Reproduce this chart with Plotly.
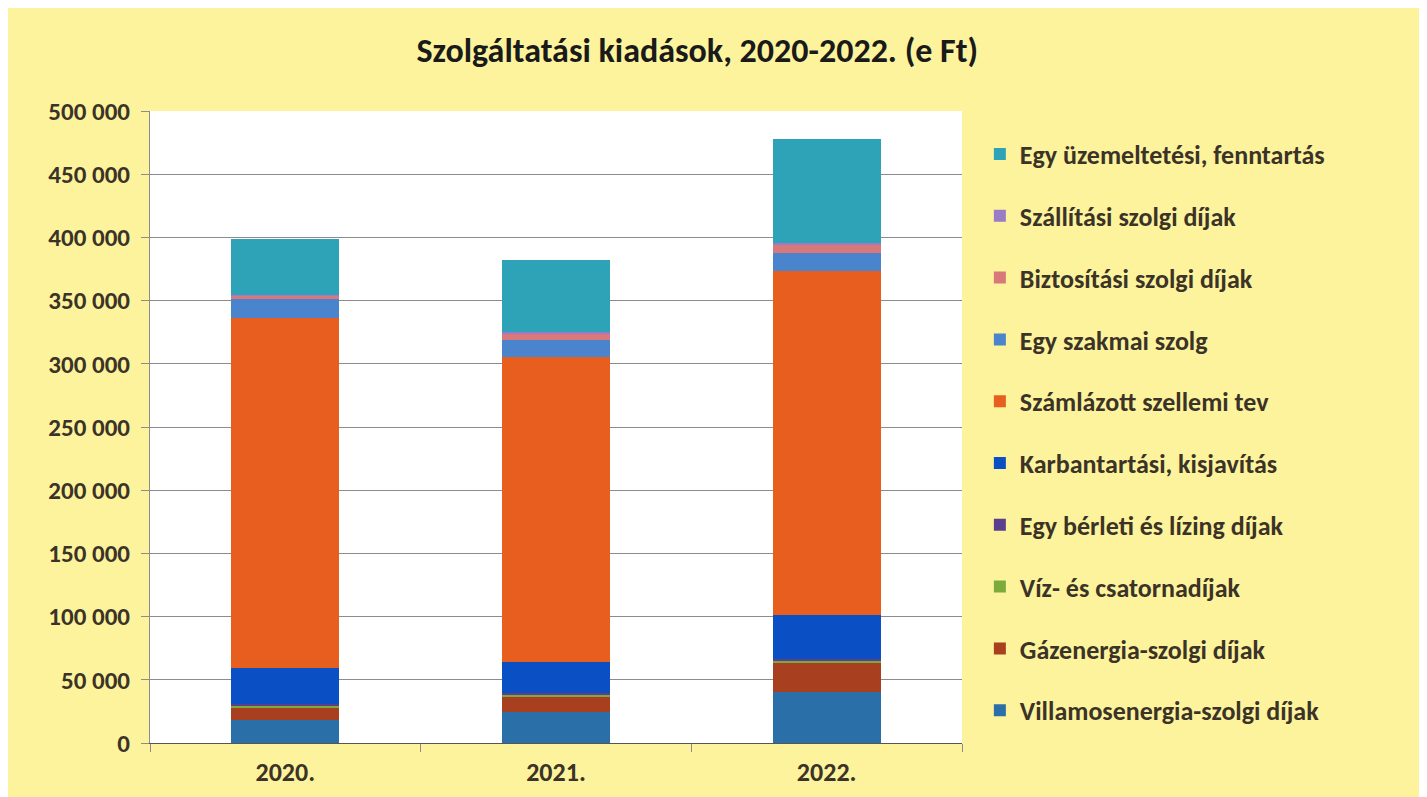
import plotly.graph_objects as go

# Years (categories)
years = ["2020.", "2021.", "2022."]

# Series values (e Ft), bottom to top
villamos = [18000, 24500, 40500]
gaz = [9500, 12000, 22500]
viz = [2500, 1500, 2000]
berleti = [1000, 1500, 1500]
karbantartas = [28000, 24500, 34500]
szamlazott = [277000, 241000, 272500]
szakmai = [15500, 13500, 14000]
biztositasi = [2500, 5500, 7000]
szallitasi = [500, 800, 1000]
uzemeltetesi = [44000, 57000, 82500]

series = [
    ("Villamosenergia-szolgi díjak", villamos, "#2a6fa8"),
    ("Gázenergia-szolgi díjak", gaz, "#a8401f"),
    ("Víz- és csatornadíjak", viz, "#7cab3c"),
    ("Egy bérleti és lízing díjak", berleti, "#5b3f8e"),
    ("Karbantartási, kisjavítás", karbantartas, "#0b4fc4"),
    ("Számlázott szellemi tev", szamlazott, "#e85e1f"),
    ("Egy szakmai szolg", szakmai, "#4a84cc"),
    ("Biztosítási szolgi díjak", biztositasi, "#d9787a"),
    ("Szállítási szolgi díjak", szallitasi, "#9a7cc6"),
    ("Egy üzemeltetési, fenntartás", uzemeltetesi, "#2ea3b8"),
]

yticks = [0, 50000, 100000, 150000, 200000, 250000, 300000, 350000, 400000, 450000, 500000]

font_family = "Carlito, Liberation Sans Narrow, Open Sans, sans-serif"
text_color = "#3b3327"

fig = go.Figure()
n = len(series)
for i, (name, vals, color) in enumerate(series):
    fig.add_trace(go.Bar(x=years, y=vals, name=name,
                         marker_color=color, marker_line_width=0,
                         legendgroup=name, legendrank=n - i))

fig.update_layout(
    barmode="stack",
    bargap=0.6,
    width=1427, height=797,
    margin=dict(l=142, r=473, t=103, b=62),
    paper_bgcolor="#fdf39c",
    plot_bgcolor="white",
    separators=", ",
    font=dict(family=font_family, color=text_color, size=24, weight="bold"),
    title=dict(text="Szolgáltatási kiadások, 2020-2022. (e Ft)",
               x=0.483, xanchor="center", y=0.947, yanchor="middle",
               font=dict(size=34, color="#1a1a1a", weight="bold")),
    legend=dict(x=1.022, xanchor="left", y=0.969, yanchor="top",
                traceorder="grouped", tracegroupgap=25,
                font=dict(size=26, color=text_color, weight="bold"),
                bgcolor="rgba(0,0,0,0)", itemwidth=30),
    showlegend=True,
)

fig.update_yaxes(range=[0, 500000], tickvals=yticks, tickformat=",d",
                 showgrid=True, gridcolor="#8c8c8c", gridwidth=1,
                 ticks="outside", ticklen=8, tickcolor="#8c8c8c",
                 showline=True, linecolor="#8c8c8c", ticklabelstandoff=6,
                 tickfont=dict(size=25, color=text_color, weight="bold"),
                 zeroline=False)
fig.update_xaxes(tickson="boundaries", ticks="outside", ticklen=8,
                 tickcolor="#8c8c8c", showline=True, linecolor="#555555",
                 ticklabelstandoff=6,
                 tickfont=dict(size=26, color=text_color, weight="bold"))

fig.write_html("out.html")
